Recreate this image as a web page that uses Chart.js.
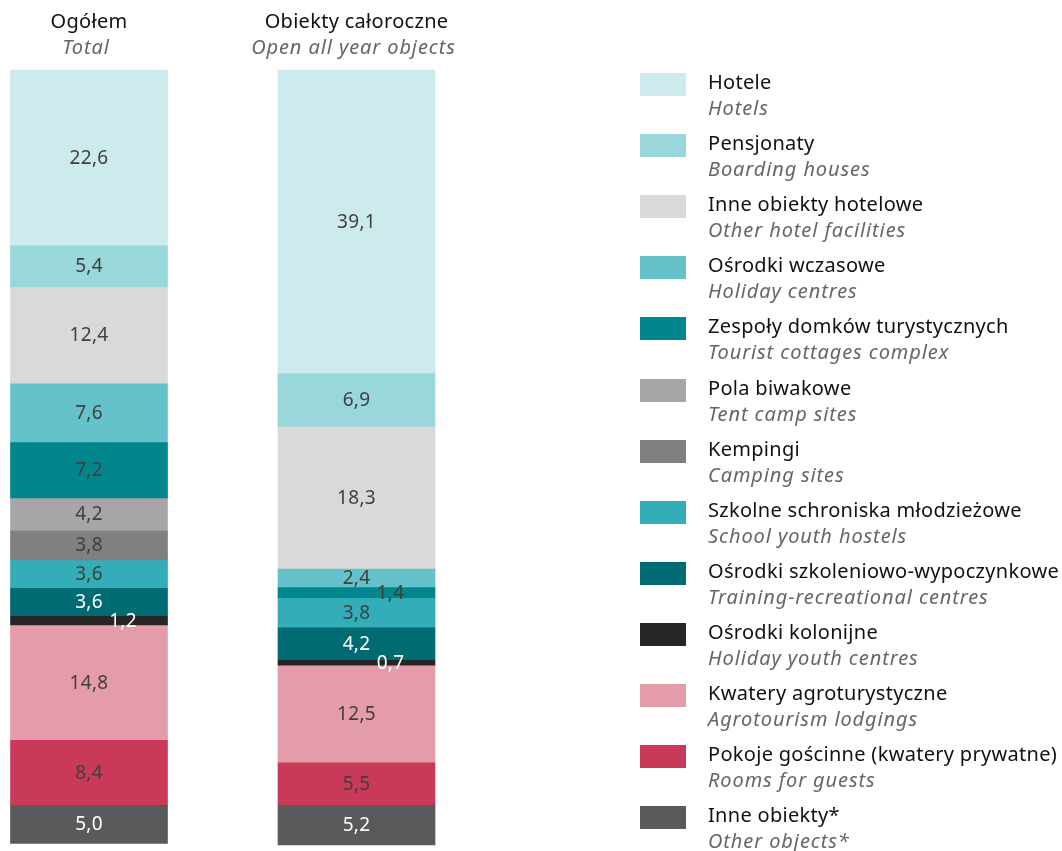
<!DOCTYPE html>
<html lang="pl">
<head>
<meta charset="utf-8">
<script src="https://cdn.jsdelivr.net/npm/chart.js@4/dist/chart.umd.min.js"></script>
<style>
  body { margin: 0; background: #fff; font-family: "Noto Sans", sans-serif; }
  #wrap { position: relative; width: 1062px; height: 851px; }
  #chart { position: absolute; left: 0; top: 0; }
  .leg { position: absolute; left: 640px; }
  .leg .sw { position: absolute; left: 0; top: 0; width: 46px; height: 23px; }
  .leg .txt { position: absolute; left: 68px; top: -4px; white-space: nowrap; font-size: 20px; line-height: 26px; }
  .leg .pl { color: #111; letter-spacing: 0.3px; }
  .leg .en { color: #666; font-style: italic; letter-spacing: 0.9px; }
</style>
</head>
<body>
<div id="wrap">
  <canvas id="chart" width="1062" height="851"></canvas>
  <div id="legend"></div>
</div>
<script>
// kolumny
const groupsPl = ['Ogółem', 'Obiekty całoroczne'];
const groupsEn = ['Total', 'Open all year objects'];

// rodzaje obiektów (od góry słupka)
const typesPl = ['Hotele', 'Pensjonaty', 'Inne obiekty hotelowe', 'Ośrodki wczasowe',
  'Zespoły domków turystycznych', 'Pola biwakowe', 'Kempingi', 'Szkolne schroniska młodzieżowe',
  'Ośrodki szkoleniowo-wypoczynkowe', 'Ośrodki kolonijne', 'Kwatery agroturystyczne',
  'Pokoje gościnne (kwatery prywatne)', 'Inne obiekty*'];
const typesEn = ['Hotels', 'Boarding houses', 'Other hotel facilities', 'Holiday centres',
  'Tourist cottages complex', 'Tent camp sites', 'Camping sites', 'School youth hostels',
  'Training-recreational centres', 'Holiday youth centres', 'Agrotourism lodgings',
  'Rooms for guests', 'Other objects*'];

// udział w % 
const totalShare   = [22.6, 5.4, 12.4, 7.6, 7.2, 4.2, 3.8, 3.6, 3.6, 1.2, 14.8, 8.4, 5.0];
const allYearShare = [39.1, 6.9, 18.3, 2.4, 1.4, 0, 0, 3.8, 4.2, 0.7, 12.5, 5.5, 5.2];

const colors = ['#cdeaec', '#9ad7db', '#d9d9d9', '#66c2ca', '#00868c', '#a6a6a6', '#808080',
  '#33adb8', '#006b72', '#262626', '#e49cab', '#c93a58', '#5a5a5a'];
const labelColors = ['#404040', '#404040', '#404040', '#404040', '#404040', '#404040', '#404040',
  '#404040', '#ffffff', '#ffffff', '#404040', '#404040', '#ffffff'];

// etykiety wartości w słupkach
const valueLabels = {
  id: 'valueLabels',
  afterDatasetsDraw(chart) {
    const c = chart.ctx;
    c.save();
    c.font = '19px "Noto Sans", sans-serif';
    c.letterSpacing = '0.3px';
    c.textAlign = 'center';
    c.textBaseline = 'middle';
    chart.data.datasets.forEach((ds, i) => {
      chart.getDatasetMeta(i).data.forEach((bar, j) => {
        const v = ds.data[j];
        if (!v) return;
        const y = (bar.y + bar.base) / 2;
        const x = v < 2 ? bar.x + 34 : bar.x;
        c.fillStyle = labelColors[i];
        c.fillText(v.toFixed(1).replace('.', ','), x, y + 1);
      });
    });
    c.restore();
  }
};

// nagłówki kolumn
const columnTitles = {
  id: 'columnTitles',
  afterDraw(chart) {
    const c = chart.ctx;
    const xs = chart.scales.x;
    c.save();
    c.textAlign = 'center';
    c.textBaseline = 'middle';
    groupsPl.forEach((g, i) => {
      const x = xs.getPixelForValue(i);
      c.font = '20px "Noto Sans", sans-serif';
      c.letterSpacing = '0.3px';
      c.fillStyle = '#111';
      c.fillText(g, x, 22);
      c.font = 'italic 20px "Noto Sans", sans-serif';
      c.letterSpacing = '0.9px';
      c.fillStyle = '#666';
      c.fillText(groupsEn[i], x - 3, 48);
    });
    c.restore();
  }
};

const ctx = document.getElementById('chart').getContext('2d');
new Chart(ctx, {
  type: 'bar',
  data: {
    labels: groupsPl,
    datasets: typesPl.map((name, i) => ({
      label: name,
      data: [totalShare[i], allYearShare[i]],
      backgroundColor: colors[i],
      borderWidth: 0,
      barThickness: 157,
      clip: false
    }))
  },
  options: {
    responsive: false,
    animation: false,
    layout: { padding: { left: 89, right: 1062 - 356.5, top: 70, bottom: 6 } },
    scales: {
      x: { stacked: true, offset: false, display: false },
      y: { stacked: true, min: 0, max: 100, reverse: true, display: false }
    },
    plugins: {
      legend: { display: false },
      tooltip: { enabled: false }
    }
  },
  plugins: [valueLabels, columnTitles]
});

// legenda
const legend = document.getElementById('legend');
typesPl.forEach((name, i) => {
  const row = document.createElement('div');
  row.className = 'leg';
  row.style.top = (73 + i * 61.1) + 'px';
  row.innerHTML = '<div class="sw" style="background:' + colors[i] + '"></div>' +
    '<div class="txt"><div class="pl">' + name + '</div><div class="en">' + typesEn[i] + '</div></div>';
  legend.appendChild(row);
});
</script>
</body>
</html>
